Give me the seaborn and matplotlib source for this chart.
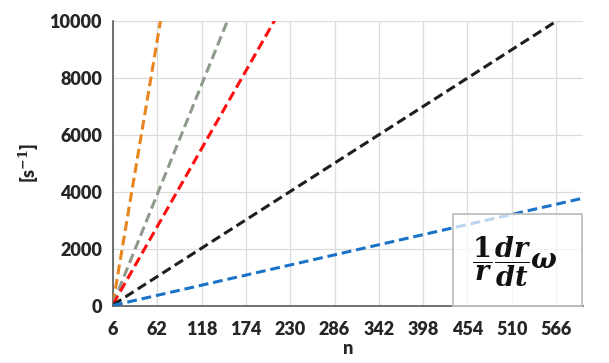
import numpy as np
import pandas as pd
import matplotlib
matplotlib.use("Agg")
import matplotlib.pyplot as plt
import seaborn as sns
from matplotlib.patches import Rectangle

# data (straight lines, endpoints)
n_points = [6, 600]
orange = [100, 98000]
gray = [80, 40800]
red = [60, 29000]
black = [40, 10580]
blue = [20, 3780]
series_names = ["orange", "gray", "red", "black", "blue"]
series_values = [orange, gray, red, black, blue]
colors = ["#E8851C", "#8E9A8B", "#FF1010", "#1E1E1E", "#1A73C6"]
x_ticks = [6, 62, 118, 174, 230, 286, 342, 398, 454, 510, 566]
y_ticks = [0, 2000, 4000, 6000, 8000, 10000]

df = pd.DataFrame({
    "n": n_points * len(series_names),
    "v": sum(series_values, []),
    "s": sum([[s] * len(n_points) for s in series_names], []),
})

sns.set_theme(style="white")
plt.rcParams["font.family"] = ["Lato", "DejaVu Sans"]
plt.rcParams["mathtext.fontset"] = "custom"
plt.rcParams["mathtext.it"] = "DejaVu Serif:bold:italic"
plt.rcParams["mathtext.rm"] = "DejaVu Serif:bold"
plt.rcParams["mathtext.bf"] = "DejaVu Serif:bold"

fig = plt.figure(figsize=(6.09, 3.63), dpi=100)
ax = fig.add_axes([113 / 609, 1 - 306 / 363, (583 - 113) / 609, (306 - 20.7) / 363])

sns.lineplot(data=df, x="n", y="v", hue="s", palette=dict(zip(series_names, colors)),
             ax=ax, legend=False, linewidth=2.2, zorder=3)
for line in ax.lines:
    line.set_dashes([3.2, 1.6])

ax.set_xlim(6, 600)
ax.set_ylim(0, 10000)
ax.set_xticks(x_ticks)
ax.set_yticks(y_ticks)
ax.grid(True, color="#DCDCDC", linewidth=0.9, zorder=0)
ax.set_axisbelow(True)
for side in ["top", "right"]:
    ax.spines[side].set_visible(False)
for side in ["left", "bottom"]:
    ax.spines[side].set_color("#595959")
    ax.spines[side].set_linewidth(1.2)
ax.tick_params(axis="both", which="both", direction="out", length=5, width=1.2,
               color="#595959", labelsize=13, labelcolor="#262626", pad=3)
ax.tick_params(axis="x", pad=6)
for lab in ax.get_xticklabels() + ax.get_yticklabels():
    lab.set_fontweight("heavy")
ax.set_xlabel("n", fontsize=13, fontweight="heavy", color="#262626", labelpad=1)
ax.set_ylabel("[s$^{\\mathbf{-1}}$]", fontsize=13, fontweight="heavy", color="#262626", labelpad=6)

# formula box
bx0 = (453 - 113) / 470
by1 = (306 - 214) / 285.3
ax.add_patch(Rectangle((bx0, 0.0), 1 - bx0 - 0.002, by1, transform=ax.transAxes,
                       facecolor="white", alpha=0.7, edgecolor="none", zorder=4, clip_on=False))
ax.add_patch(Rectangle((bx0, 0.0), 1 - bx0 - 0.002, by1, transform=ax.transAxes,
                       facecolor="none", edgecolor="#BFBFBF", linewidth=1.3, zorder=5, clip_on=False))
ax.text(bx0 + 0.04, by1 / 2 - 0.005, r"$\dfrac{1}{r}\dfrac{dr}{dt}\omega$", transform=ax.transAxes,
        fontsize=19.5, ha="left", va="center", zorder=6, color="#111111")

fig.savefig("out.png", dpi=100)
